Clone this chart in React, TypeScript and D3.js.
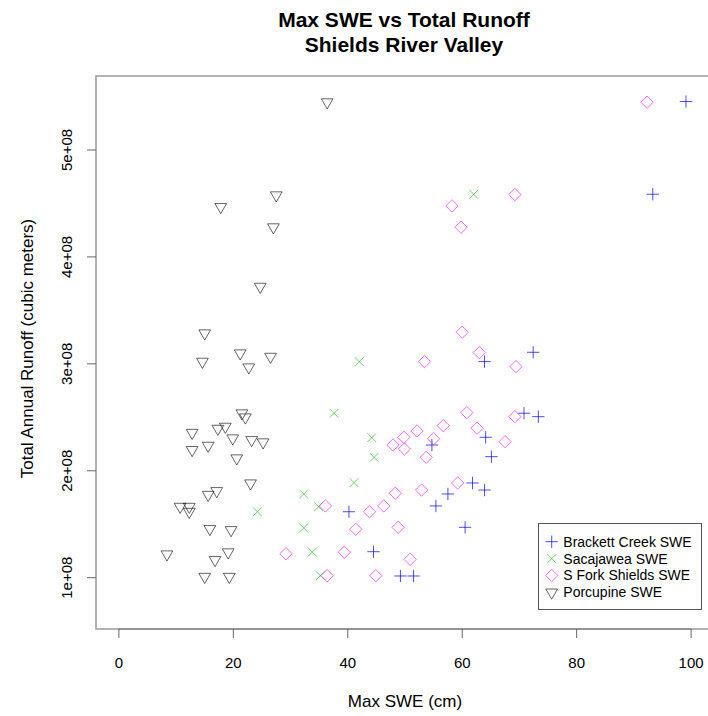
import React from 'react';
import * as d3 from 'd3';

// Max SWE (cm) and total annual runoff (m^3)
const brackettSwe = [99.1, 93.3, 72.4, 63.9, 70.8, 73.3, 64.1, 54.7, 65.1, 61.8, 63.9, 57.5, 55.4, 60.5, 49.2, 51.5, 40.2, 44.5];
const brackettRunoff = [5.453, 4.586, 3.108, 3.021, 2.538, 2.506, 2.313, 2.241, 2.132, 1.886, 1.82, 1.783, 1.671, 1.471, 1.016, 1.016, 1.617, 1.243];

const sacajaweaSwe = [62.0, 42.0, 37.6, 44.2, 44.6, 41.1, 32.3, 34.9, 24.2, 32.3, 33.8, 35.2];
const sacajaweaRunoff = [4.586, 3.021, 2.538, 2.31, 2.126, 1.889, 1.783, 1.664, 1.617, 1.465, 1.24, 1.019];

const sforkSwe = [92.3, 69.2, 58.2, 59.8, 60.0, 63.0, 53.4, 69.4, 60.8, 69.2, 56.7, 52.1, 62.6, 49.8, 47.9, 55.0,
  49.9, 67.5, 53.7, 59.2, 52.9, 48.3, 46.3, 48.8, 50.9, 36.1, 43.8, 41.4, 29.2, 39.4, 36.4, 44.9];
const sforkRunoff = [5.447, 4.583, 4.477, 4.278, 3.296, 3.105, 3.021, 2.974, 2.544, 2.506, 2.422, 2.372, 2.398, 2.313, 2.241, 2.3,
  2.204, 2.272, 2.126, 1.886, 1.82, 1.79, 1.671, 1.471, 1.172, 1.671, 1.617, 1.453, 1.224, 1.238, 1.019, 1.019];

const porcupineSwe = [36.4, 27.5, 17.8, 27.0, 24.7, 15.0, 14.6, 21.2, 26.5, 22.7, 21.5, 22.1, 12.8, 17.3, 18.6, 19.9, 23.2,
  25.2, 15.6, 12.8, 20.6, 23.0, 15.6, 17.1, 10.7, 12.3, 12.3, 15.9, 19.6, 8.4, 16.8, 19.1, 15.0, 19.3];
const porcupineRunoff = [5.447, 4.577, 4.468, 4.278, 3.722, 3.286, 3.021, 3.099, 3.067, 2.968, 2.538, 2.5, 2.356, 2.394, 2.413,
  2.304, 2.288, 2.267, 2.235, 2.195, 2.117, 1.883, 1.776, 1.811, 1.664, 1.664, 1.617, 1.456, 1.446, 1.219, 1.166, 1.238, 1.009, 1.009];

const xTicks = [0, 20, 40, 60, 80, 100];
const yTicks = [1e8, 2e8, 3e8, 4e8, 5e8];
const yTickLabels = ['1e+08', '2e+08', '3e+08', '4e+08', '5e+08'];

const seriesNames = ['Brackett Creek SWE', 'Sacajawea SWE', 'S Fork Shields SWE', 'Porcupine SWE'];

const FONT = '"Liberation Sans", Arial, sans-serif';
const R = 4.36; // R's symbol radius

// R-like pch paths
function pchPath(pch: number, x: number, y: number) {
  if (pch === 3) {
    const h = Math.SQRT2 * R;
    return `M${x - h},${y}H${x + h}M${x},${y - h}V${y + h}`;
  }
  if (pch === 4) {
    const h = R;
    return `M${x - h},${y - h}L${x + h},${y + h}M${x - h},${y + h}L${x + h},${y - h}`;
  }
  if (pch === 5) {
    const h = Math.SQRT2 * R;
    return `M${x - h},${y}L${x},${y - h}L${x + h},${y}L${x},${y + h}Z`;
  }
  // pch 6, down triangle
  const xc = 1.3468 * R, r = 1.5551 * R, yc = 0.7776 * R;
  return `M${x},${y + r}L${x + xc},${y - yc}L${x - xc},${y - yc}Z`;
}

export default function App() {
  const width = 708, height = 716;
  const margin = { left: 96, right: 714, top: 76, bottom: 629 };

  const x = d3.scaleLinear().domain([-4, 104]).range([margin.left, margin.right]);
  const y = d3.scaleLinear().domain([0.5202e8, 5.692e8]).range([margin.bottom, margin.top]);

  const series = [
    { name: seriesNames[0], swe: brackettSwe, runoff: brackettRunoff, pch: 3, color: '#0000ff', opacity: 0.7 },
    { name: seriesNames[1], swe: sacajaweaSwe, runoff: sacajaweaRunoff, pch: 4, color: '#00c000', opacity: 0.6 },
    { name: seriesNames[2], swe: sforkSwe, runoff: sforkRunoff, pch: 5, color: '#ff00ff', opacity: 0.6 },
    { name: seriesNames[3], swe: porcupineSwe, runoff: porcupineRunoff, pch: 6, color: '#000000', opacity: 0.6 },
  ];

  const cx = (margin.left + margin.right) / 2;

  return (
    <svg width={width} height={height} style={{ position: 'absolute', left: 0, top: 0, background: '#fff' }}
      fontFamily={FONT}>
      <rect width={width} height={height} fill="#fff" />
      <text x={404} y={26.5} textAnchor="middle" fontSize={21} fontWeight="bold">Max SWE vs Total Runoff</text>
      <text x={404} y={51.5} textAnchor="middle" fontSize={21} fontWeight="bold">Shields River Valley</text>

      {/* plot frame */}
      <rect x={margin.left} y={margin.top} width={margin.right - margin.left} height={margin.bottom - margin.top}
        fill="none" stroke="#9a9a9a" strokeWidth={1.5} />

      {/* x axis */}
      <line x1={x(0)} x2={x(100)} y1={margin.bottom} y2={margin.bottom} stroke="#777" />
      {xTicks.map(t => (
        <g key={t}>
          <line x1={x(t)} x2={x(t)} y1={margin.bottom} y2={margin.bottom + 9} stroke="#666" />
          <text x={x(t)} y={668} textAnchor="middle" fontSize={15}>{t}</text>
        </g>
      ))}
      <text x={cx} y={707} textAnchor="middle" fontSize={17}>Max SWE (cm)</text>

      {/* y axis */}
      {yTicks.map((t, i) => (
        <g key={t}>
          <line x1={margin.left - 9} x2={margin.left} y1={y(t)} y2={y(t)} stroke="#666" />
          <text transform={`translate(72,${y(t)}) rotate(-90)`} textAnchor="middle" fontSize={15}>{yTickLabels[i]}</text>
        </g>
      ))}
      <text transform={`translate(33,${(margin.top + margin.bottom) / 2 - 4}) rotate(-90)`} textAnchor="middle"
        fontSize={17}>Total Annual Runoff (cubic meters)</text>

      {/* points */}
      {series.map(s => (
        <g key={s.name} fill="none" stroke={s.color} strokeOpacity={s.opacity} strokeWidth={1}>
          {s.swe.map((v, i) => (
            <path key={i} d={pchPath(s.pch, x(v), y(s.runoff[i] * 1e8))} />
          ))}
        </g>
      ))}

      {/* legend */}
      <rect x={538.5} y={523.5} width={163} height={86} fill="#fff" stroke="#555" />
      {series.map((s, i) => {
        const ly = 541.7 + i * 16.9;
        return (
          <g key={s.name}>
            <path d={pchPath(s.pch, 551.7, ly)} fill="none" stroke={s.color} strokeOpacity={s.opacity} />
            <text x={563.3} y={ly} dy="0.35em" fontSize={14}>{s.name}</text>
          </g>
        );
      })}
    </svg>
  );
}
